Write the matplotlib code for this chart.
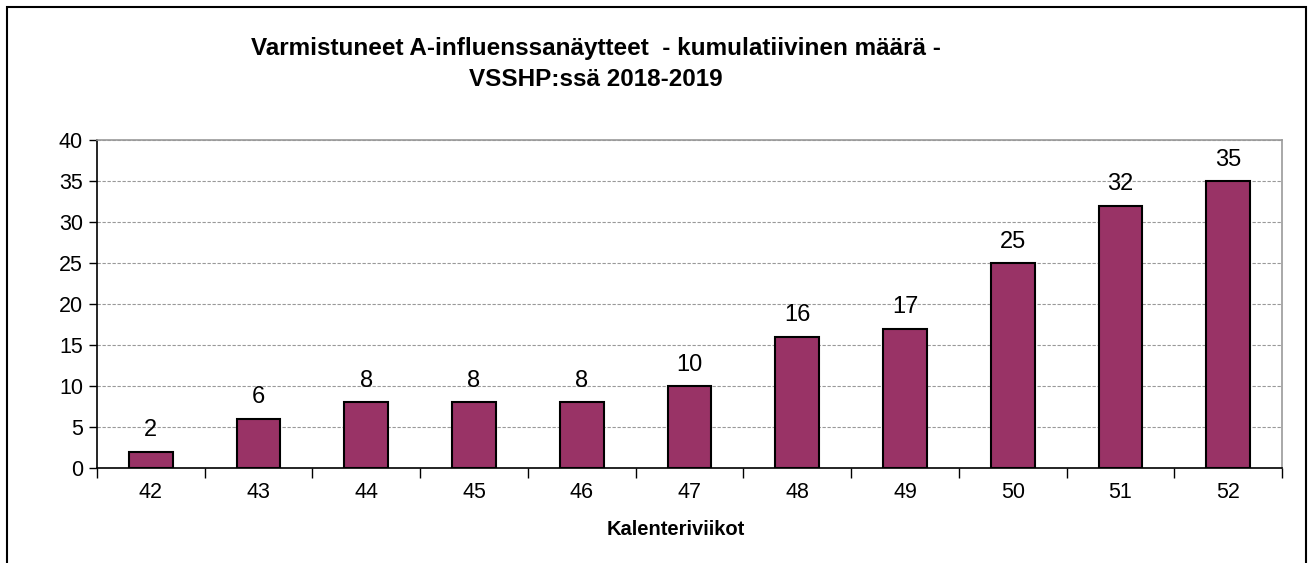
import matplotlib
matplotlib.use("Agg")
import matplotlib.pyplot as plt
from matplotlib.patches import Rectangle
import numpy as np

plt.rcParams["font.family"] = ["Liberation Sans", "DejaVu Sans"]

weeks = ["42", "43", "44", "45", "46", "47", "48", "49", "50", "51", "52"]
counts = [2, 6, 8, 8, 8, 10, 16, 17, 25, 32, 35]

BAR = "#993366"
W, H = 1310, 563

fig = plt.figure(figsize=(W / 100, H / 100), dpi=100)
ax = fig.add_axes([97 / W, 1 - 468 / H, (1282 - 97) / W, (468 - 140) / H])

x = np.arange(len(weeks))
ax.bar(x, counts, width=0.406, color=BAR, edgecolor="black", linewidth=1.5, zorder=3)
for xi, v in zip(x, counts):
    ax.annotate(str(v), xy=(xi, v), xytext=(0, 7.5), textcoords="offset points",
                ha="center", va="bottom", fontsize=17, color="black")

ax.set_xlim(-0.5, len(weeks) - 0.5)
ax.set_ylim(0, 40)
ax.set_yticks(range(0, 41, 5))
ax.yaxis.grid(True, color="#999999", linestyle=(0, (3, 1.5)), linewidth=0.8, zorder=0)
ax.set_axisbelow(True)

# category labels centred, tick marks on category boundaries
ax.set_xticks(x)
ax.set_xticklabels(weeks, fontsize=15.5)
ax.tick_params(axis="x", length=0, pad=10)
ax.set_xticks(np.arange(-0.5, len(weeks)), minor=True)
ax.tick_params(axis="x", which="minor", length=7, width=1, direction="out")
ax.tick_params(axis="y", labelsize=15.5, length=6, width=1, direction="out", pad=4)

for sp in ("top", "right"):
    ax.spines[sp].set_color("#999999")
    ax.spines[sp].set_linewidth(1.2)
for sp in ("left", "bottom"):
    ax.spines[sp].set_color("black")
    ax.spines[sp].set_linewidth(1.2)

ax.set_xlabel("Kalenteriviikot", fontsize=14.5, fontweight="bold", labelpad=12)
ax.xaxis.label.set_x(0.488)

fig.text(596 / W, 1 - 64 / H,
         "Varmistuneet A-influenssanäytteet  - kumulatiivinen määrä -\nVSSHP:ssä 2018-2019",
         ha="center", va="center", fontsize=17.5, fontweight="bold", linespacing=1.45)

# outer chart border
fig.patches.append(Rectangle((7 / W, -0.05), (1306 - 7) / W, 1 - 7 / H + 0.05,
                             transform=fig.transFigure, fill=False,
                             edgecolor="black", linewidth=1.5))

fig.savefig("out.png", dpi=100)
